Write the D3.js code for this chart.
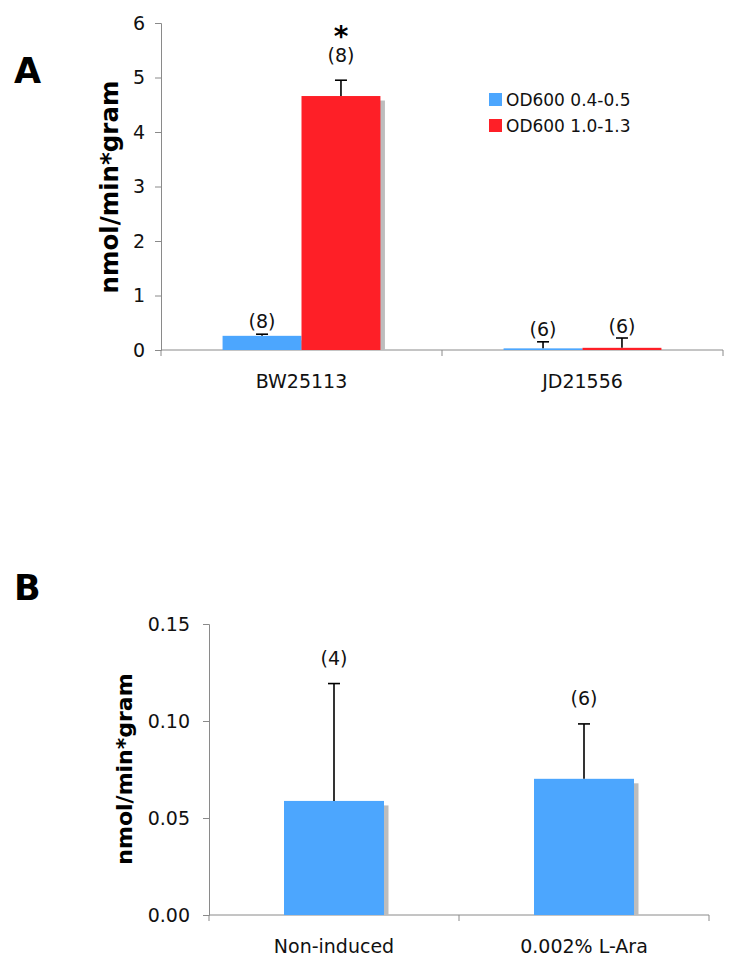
<!DOCTYPE html>
<html><head><meta charset="utf-8">
<script src="https://cdn.jsdelivr.net/npm/d3@7"></script>
<style>body{margin:0;background:#fff}svg{display:block}text{font-family:"DejaVu Sans",Verdana,sans-serif}</style>
</head><body>
<svg id="c" width="733" height="973"></svg>
<script>
// ---- Panel A data ----
const categoriesA = ["BW25113", "JD21556"];
const seriesA = ["OD600 0.4-0.5", "OD600 1.0-1.3"];
const valuesLow = [0.26, 0.03];
const valuesHigh = [4.66, 0.04];
const errLow = [0.03, 0.12];
const errHigh = [0.29, 0.18];
const nLow = ["(8)", "(6)"];
const nHigh = ["(8)", "(6)"];
const signifHigh = ["*", ""];
const ticksA = [0, 1, 2, 3, 4, 5, 6];
// ---- Panel B data ----
const categoriesB = ["Non-induced", "0.002% L-Ara"];
const valuesB = [0.0588, 0.0702];
const errB = [0.0605, 0.0283];
const nB = ["(4)", "(6)"];
const ticksB = [0, 0.05, 0.10, 0.15];

const colors = ["#4ca6fe", "#fe1f27"];
const shadow = "#bdbdbd";
const axisCol = "#8a8a8a";
const svg = d3.select("#c");

function drawAxes(g, x, y, ticks, fmt, pad, yLabel, lblSize, cx, cy) {
  const [x0, x1] = x.range();
  const ya = g.append("g").attr("transform", `translate(${x0},0)`)
    .call(d3.axisLeft(y).tickValues(ticks).tickFormat(fmt).tickSize(6).tickPadding(pad));
  ya.select(".domain").attr("stroke", axisCol);
  ya.selectAll(".tick line").attr("stroke", axisCol);
  ya.selectAll(".tick text").attr("font-size", 19).attr("fill", "#111").attr("font-family", "DejaVu Sans");
  g.append("line").attr("x1", x0).attr("x2", x1).attr("y1", y(0)).attr("y2", y(0)).attr("stroke", axisCol);
  const bounds = x.domain().map(d => x(d)).concat([x1]);
  g.selectAll(".xt").data(bounds).enter().append("line")
    .attr("x1", d => d).attr("x2", d => d).attr("y1", y(0)).attr("y2", y(0) + 6).attr("stroke", axisCol);
  g.selectAll(".xl").data(x.domain()).enter().append("text")
    .attr("x", d => x(d) + x.bandwidth() / 2).attr("y", y(0) + 38)
    .attr("text-anchor", "middle").attr("font-size", 19).attr("fill", "#111").text(d => d);
  g.append("text").attr("transform", `translate(${cx},${cy}) rotate(-90)`)
    .attr("text-anchor", "middle").attr("font-size", lblSize).attr("font-weight", "bold").text(yLabel);
}

function bar(g, xl, w, y, v, e, col, lab, lab2, labOffset) {
  const top = y(v), base = y(0);
  g.append("rect").attr("x", xl + 4.5).attr("y", top + 4.5).attr("width", w).attr("height", Math.max(0, base - top - 4.5)).attr("fill", shadow);
  g.append("rect").attr("x", xl).attr("y", top).attr("width", w).attr("height", base - top).attr("fill", col);
  const cx = xl + w / 2, et = y(v + e);
  g.append("line").attr("x1", cx).attr("x2", cx).attr("y1", top).attr("y2", et).attr("stroke", "#000").attr("stroke-width", 1.6);
  g.append("line").attr("x1", cx - 6).attr("x2", cx + 6).attr("y1", et).attr("y2", et).attr("stroke", "#000").attr("stroke-width", 1.6);
  g.append("text").attr("x", cx).attr("y", et - labOffset).attr("text-anchor", "middle").attr("font-size", 19).attr("fill", "#111").text(lab);
  if (lab2) g.append("text").attr("x", cx).attr("y", et - 34).attr("text-anchor", "middle").attr("font-size", 28).attr("font-weight", "bold").text(lab2);
}

// ---- Panel A ----
const gA = svg.append("g");
const xA = d3.scaleBand().domain(categoriesA).range([161, 723]).padding(0);
const xSubA = d3.scaleBand().domain(seriesA).range([0, xA.bandwidth()]).paddingInner(0).paddingOuter(0.78);
const yA = d3.scaleLinear().domain([0, 6]).range([350, 23]);
drawAxes(gA, xA, yA, ticksA, d3.format("d"), 10, "nmol/min*gram", 24.5, 118, 187);
categoriesA.forEach((c, i) => {
  bar(gA, xA(c) + xSubA(seriesA[0]), xSubA.bandwidth(), yA, valuesLow[i], errLow[i], colors[0], nLow[i], null, 6);
  bar(gA, xA(c) + xSubA(seriesA[1]), xSubA.bandwidth(), yA, valuesHigh[i], errHigh[i], colors[1], nHigh[i], signifHigh[i], signifHigh[i] ? 18 : 5);
});
svg.append("text").attr("x", 14).attr("y", 83).attr("font-size", 35).attr("font-weight", "bold").attr("font-family", "Liberation Sans, Arial, sans-serif").text("A");
const leg = gA.append("g").attr("transform", "translate(489,93)");
seriesA.forEach((s, i) => {
  leg.append("rect").attr("x", 0).attr("y", i * 26).attr("width", 13).attr("height", 13).attr("fill", colors[i]);
  leg.append("text").attr("x", 17).attr("y", i * 26 + 6.5).attr("dy", "0.36em").attr("font-size", 17).attr("fill", "#111").text(s);
});

// ---- Panel B ----
const gB = svg.append("g");
const xB = d3.scaleBand().domain(categoriesB).range([209, 709]).padding(0);
const yB = d3.scaleLinear().domain([0, 0.15]).range([915, 624]);
drawAxes(gB, xB, yB, ticksB, d3.format(".2f"), 13, "nmol/min*gram", 22, 132, 769);
categoriesB.forEach((c, i) => {
  const w = xB.bandwidth() * 0.4;
  bar(gB, xB(c) + (xB.bandwidth() - w) / 2, w, yB, valuesB[i], errB[i], colors[0], nB[i], null, 19);
});
svg.append("text").attr("x", 14).attr("y", 600).attr("font-size", 35).attr("font-weight", "bold").attr("font-family", "Liberation Sans, Arial, sans-serif").text("B");
</script>
</body></html>
